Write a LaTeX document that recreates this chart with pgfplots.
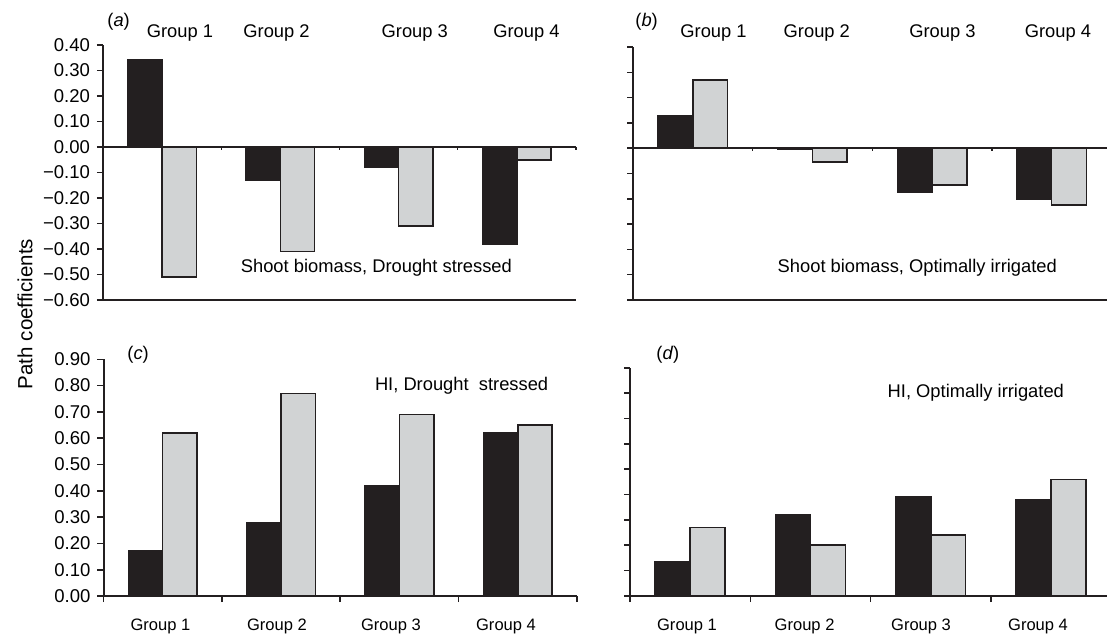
\documentclass[border=0pt]{standalone}
\usepackage{fontspec}
\setmainfont{Liberation Sans}
\usepackage{pgfplots}
\pgfplotsset{compat=1.18}
\definecolor{barblack}{HTML}{231F20}
\definecolor{bargray}{HTML}{D1D3D4}
\pgfplotsset{
  panel/.style={
    scale only axis, anchor=south west, clip=false,
    axis x line*=bottom, axis y line*=left,
    axis line style={line width=1bp, color=barblack},
    tick align=outside, major tick length=3bp,
    major tick style={line width=0.8bp, color=barblack},
    tick label style={font=\fontsize{9.3}{10}\selectfont},
    ybar=0pt, bar width=0.29,
    xmin=-0.5,
  },
  blk/.style={fill=barblack, draw=barblack, line width=0.8bp},
  gry/.style={fill=bargray, draw=barblack, line width=0.8bp},
}
\tikzset{zt/.style={line width=0.7bp, color=barblack}}
\begin{document}
\begin{tikzpicture}
\path[use as bounding box] (0,0) rectangle (553.5bp,317bp);
% (a)
\begin{axis}[panel, at={(51.5bp,167bp)}, width=236.5bp, height=127.5bp,
  xmax=3.5, ymin=-0.6, ymax=0.4, xtick=\empty,
  ytick={-0.6,-0.5,-0.4,-0.3,-0.2,-0.1,0,0.1,0.2,0.3,0.4},
  yticklabels={−0.60,−0.50,−0.40,−0.30,−0.20,−0.10,0.00,0.10,0.20,0.30,0.40}]
\addplot[blk] coordinates {(0,0.34) (1,-0.13) (2,-0.08) (3,-0.38)};
\addplot[gry] coordinates {(0,-0.51) (1,-0.41) (2,-0.31) (3,-0.05)};
\draw[zt] (axis cs:-0.5,0) -- (axis cs:3.5,0);
\draw[zt] (axis cs:0.5,0) -- ++(0pt,-1.5bp);
\draw[zt] (axis cs:1.5,0) -- ++(0pt,-1.5bp);
\draw[zt] (axis cs:2.5,0) -- ++(0pt,-1.5bp);
\draw[zt] (axis cs:3.5,0) -- ++(0pt,-1.5bp);
\end{axis}
% (b)
\begin{axis}[panel, at={(316.5bp,167bp)}, width=237bp, height=126.5bp,
  xmax=3.463, ymin=-0.6, ymax=0.4, xtick=\empty,
  ytick={-0.6,-0.5,-0.4,-0.3,-0.2,-0.1,0,0.1,0.2,0.3,0.4},
  yticklabels={}]
\addplot[blk] coordinates {(0,0.13) (1,-0.005) (2,-0.175) (3,-0.20)};
\addplot[gry] coordinates {(0,0.27) (1,-0.055) (2,-0.145) (3,-0.225)};
\draw[zt] (axis cs:-0.5,0) -- (axis cs:3.463,0);
\draw[zt] (axis cs:0.5,0) -- ++(0pt,-1.5bp);
\draw[zt] (axis cs:1.5,0) -- ++(0pt,-1.5bp);
\draw[zt] (axis cs:2.5,0) -- ++(0pt,-1.5bp);
\end{axis}
% (c)
\begin{axis}[panel, at={(51.75bp,19bp)}, width=236.75bp, height=118.35bp,
  xmax=3.5, ymin=0, ymax=0.9,
  xtick={-0.5,0.5,1.5,2.5,3.5}, xticklabels={},
  ytick={0,0.1,0.2,0.3,0.4,0.5,0.6,0.7,0.8,0.9},
  yticklabels={0.00,0.10,0.20,0.30,0.40,0.50,0.60,0.70,0.80,0.90}]
\addplot[blk] coordinates {(0,0.17) (1,0.28) (2,0.42) (3,0.62)};
\addplot[gry] coordinates {(0,0.62) (1,0.77) (2,0.69) (3,0.65)};
\end{axis}
% (d)
\begin{axis}[panel, at={(315bp,19bp)}, width=238.5bp, height=114.15bp,
  xmax=3.465, ymin=0, ymax=0.9,
  xtick={-0.5,0.5,1.5,2.5}, xticklabels={},
  ytick={0,0.1,0.2,0.3,0.4,0.5,0.6,0.7,0.8,0.9}, yticklabels={}]
\addplot[blk] coordinates {(0,0.135) (1,0.32) (2,0.39) (3,0.38)};
\addplot[gry] coordinates {(0,0.27) (1,0.20) (2,0.24) (3,0.46)};
\end{axis}
% texts
\begin{scope}[every node/.style={inner sep=0pt, font=\fontsize{9.2}{10}\selectfont}]
\node[anchor=base] at (90bp,298.35bp) {Group 1};
\node[anchor=base] at (138.25bp,298.35bp) {Group 2};
\node[anchor=base] at (207.4bp,298.35bp) {Group 3};
\node[anchor=base] at (263.2bp,298.35bp) {Group 4};
\node[anchor=base] at (356.75bp,298.35bp) {Group 1};
\node[anchor=base] at (408.4bp,298.35bp) {Group 2};
\node[anchor=base] at (471.2bp,298.35bp) {Group 3};
\node[anchor=base] at (528.95bp,298.35bp) {Group 4};
\node[anchor=base west] at (53.5bp,303.5bp) {(\textit{a})};
\node[anchor=base west] at (317.5bp,303.5bp) {(\textit{b})};
\node[anchor=base west] at (63.5bp,137bp) {(\textit{c})};
\node[anchor=base west] at (328bp,137bp) {(\textit{d})};
\node[anchor=base] at (188.2bp,180.5bp) {Shoot biomass, Drought stressed};
\node[anchor=base] at (458.65bp,180.5bp) {Shoot biomass, Optimally irrigated};
\node[anchor=base] at (230.8bp,121.5bp) {HI, Drought\ \ stressed};
\node[anchor=base] at (487.9bp,118.35bp) {HI, Optimally irrigated};
\end{scope}
\begin{scope}[every node/.style={inner sep=0pt, font=\fontsize{8.3}{9}\selectfont}]
\node[anchor=base] at (80.25bp,2bp) {Group 1};
\node[anchor=base] at (138.5bp,2bp) {Group 2};
\node[anchor=base] at (195.5bp,2bp) {Group 3};
\node[anchor=base] at (253bp,2bp) {Group 4};
\node[anchor=base] at (343.5bp,2bp) {Group 1};
\node[anchor=base] at (402.3bp,2bp) {Group 2};
\node[anchor=base] at (460.5bp,2bp) {Group 3};
\node[anchor=base] at (519bp,2bp) {Group 4};
\end{scope}
\node[rotate=90, inner sep=0pt, font=\fontsize{10.3}{12}\selectfont] at (12.5bp,160bp) {Path coefficients};
\end{tikzpicture}
\end{document}
